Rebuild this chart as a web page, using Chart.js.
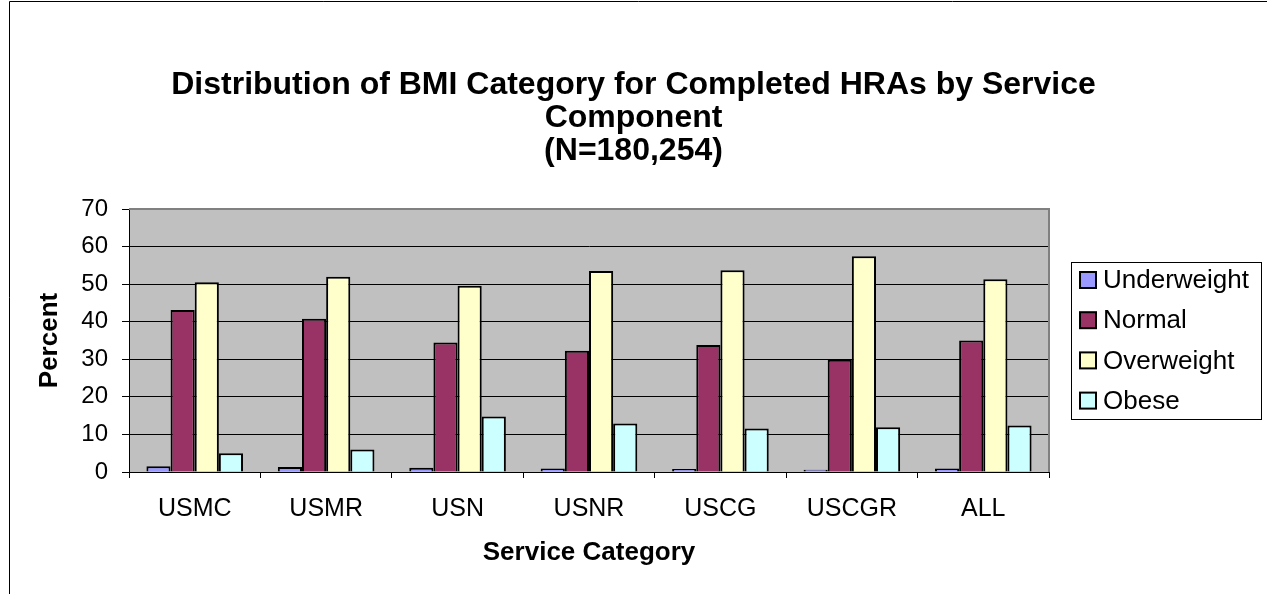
<!DOCTYPE html>
<html>
<head>
<meta charset="utf-8">
<script src="https://cdn.jsdelivr.net/npm/chart.js@4"></script>
<style>
  html, body { margin: 0; padding: 0; background: #fff; }
  #wrap { width: 1267px; height: 594px; position: relative; }
</style>
</head>
<body>
<div id="wrap"><canvas id="myChart"></canvas></div>
<script>
const categories = ["USMC", "USMR", "USN", "USNR", "USCG", "USCGR", "ALL"];
const seriesNames = ["Underweight", "Normal", "Overweight", "Obese"];
const underweight = [1.5, 1.3, 1.1, 0.9, 0.8, 0.6, 0.9];
const normal = [43.1, 40.8, 34.5, 32.3, 33.8, 29.9, 35.0];
const overweight = [50.5, 52.0, 49.6, 53.5, 53.7, 57.4, 51.3];
const obese = [5.0, 6.0, 14.8, 12.9, 11.6, 11.9, 12.4];
const colors = ["#9999FF", "#993366", "#FFFFCC", "#CCFFFF"];
const yTicks = [0, 10, 20, 30, 40, 50, 60, 70];

const font = "Arial, 'Liberation Sans', sans-serif";

// grey plot background, frame and boxed legend
const excelLook = {
  id: "excelLook",
  beforeDraw(chart) {
    const { ctx, chartArea: a } = chart;
    ctx.save();
    ctx.fillStyle = "#fff";
    ctx.fillRect(0, 0, chart.width, chart.height);
    ctx.fillStyle = "#C0C0C0";
    ctx.fillRect(a.left, a.top, a.right - a.left, a.bottom - a.top);
    ctx.restore();
  },
  afterDraw(chart) {
    const { ctx, chartArea: a } = chart;
    ctx.save();
    // plot border top/right
    ctx.strokeStyle = "#808080";
    ctx.lineWidth = 2;
    ctx.beginPath();
    ctx.moveTo(a.left, a.top);
    ctx.lineTo(a.right, a.top);
    ctx.lineTo(a.right, a.bottom);
    ctx.stroke();
    // outer frame
    ctx.strokeStyle = "#000";
    ctx.lineWidth = 1;
    ctx.beginPath();
    ctx.moveTo(9.5, chart.height);
    ctx.lineTo(9.5, 1.5);
    ctx.lineTo(chart.width, 1.5);
    ctx.stroke();
    // legend
    const lx = 1071, ly = 262, lw = 190, lh = 157;
    ctx.fillStyle = "#fff";
    ctx.fillRect(lx, ly, lw, lh);
    ctx.strokeRect(lx + 0.5, ly + 0.5, lw, lh);
    ctx.font = "26px " + font;
    ctx.textBaseline = "middle";
    chart.data.datasets.forEach((ds, i) => {
      const cy = 280 + i * 40.2;
      ctx.fillStyle = ds.backgroundColor;
      ctx.fillRect(1080, cy - 8, 16, 16);
      ctx.lineWidth = 2;
      ctx.strokeRect(1080, cy - 8, 16, 16);
      ctx.fillStyle = "#000";
      ctx.fillText(ds.label, 1103, cy + 1);
    });
    ctx.restore();
  },
};

const datasets = [underweight, normal, overweight, obese].map((d, i) => ({
  label: seriesNames[i],
  data: d,
  backgroundColor: colors[i],
  borderColor: "#000",
  borderWidth: 2,
  categoryPercentage: 0.735,
  barPercentage: 1,
}));

const ctx = document.getElementById("myChart");
new Chart(ctx, {
  type: "bar",
  data: { labels: categories, datasets: datasets },
  plugins: [excelLook],
  options: {
    responsive: true,
    maintainAspectRatio: false,
    animation: false,
    layout: { padding: 0 },
    plugins: {
      legend: { display: false },
      tooltip: { enabled: false },
      title: {
        display: true,
        text: [
          "Distribution of BMI Category for Completed HRAs by Service",
          "Component",
          "(N=180,254)",
        ],
        color: "#000",
        font: { family: font, size: 32, weight: "bold", lineHeight: 33 / 32 },
        padding: { top: 69, bottom: 41 },
      },
    },
    scales: {
      x: {
        afterFit: (s) => { s.height = 122; },
        grid: {
          offset: true,
          drawOnChartArea: false,
          drawTicks: true,
          tickLength: 6,
          tickColor: "#000",
        },
        border: { color: "#000", width: 1 },
        ticks: { color: "#000", padding: 16, font: { family: font, size: 25 } },
        title: {
          display: true,
          text: "Service Category",
          color: "#000",
          font: { family: font, size: 26, weight: "bold" },
          padding: { top: 0, bottom: 26 },
        },
      },
      y: {
        min: 0,
        max: 70,
        afterFit: (s) => { s.width = 129; },
        afterBuildTicks: (s) => { s.ticks = yTicks.map((v) => ({ value: v })); },
        grid: {
          color: "#000",
          lineWidth: 1,
          drawTicks: true,
          tickLength: 7,
          tickColor: "#000",
        },
        border: { color: "#000", width: 1 },
        ticks: { color: "#000", padding: 14, font: { family: font, size: 24 } },
        title: {
          display: true,
          text: "Percent",
          color: "#000",
          font: { family: font, size: 26, weight: "bold" },
          padding: { top: 34, bottom: 0 },
        },
      },
      // empty right-hand axis that reserves the room for the legend box
      legendSpace: {
        type: "linear",
        position: "right",
        min: 0,
        max: 70,
        afterFit: (s) => { s.width = 218; },
        grid: { display: false, drawOnChartArea: false },
        border: { display: false },
        ticks: { display: false },
      },
    },
  },
});
</script>
</body>
</html>
